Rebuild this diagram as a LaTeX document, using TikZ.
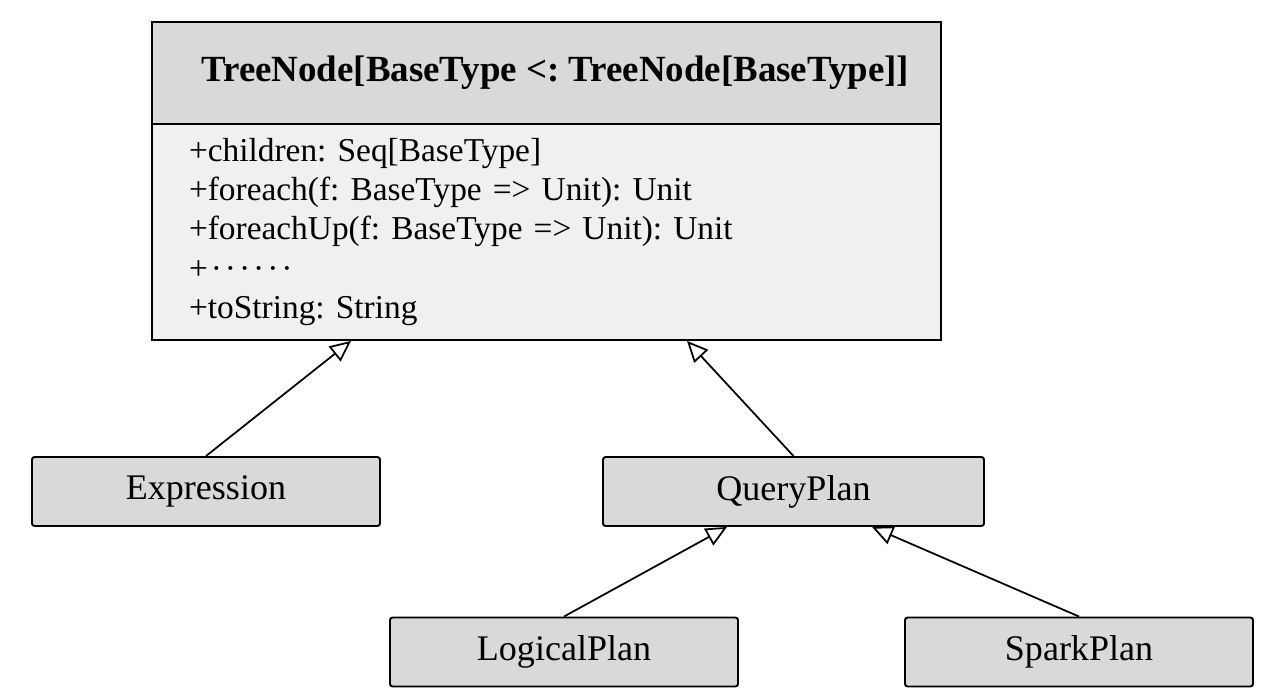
\documentclass[tikz,border=0pt]{standalone}
\usepackage{fontspec}
\setmainfont{Liberation Serif}
\usetikzlibrary{arrows.meta,calc}
\definecolor{headgray}{HTML}{D9D9D9}
\definecolor{bodygray}{HTML}{F0F0F0}
\newcommand{\gapdot}{\hspace{0.06cm}\textperiodcentered}
\frenchspacing
\begin{document}
\begin{tikzpicture}
[classdecorate/.style={shape=rectangle,draw,line width=1.1pt,rounded corners=1.5pt,
   fill=headgray,minimum width=6.96cm,minimum height=1.38cm,
   font=\fontsize{20.5}{24}\selectfont},%
  inheritdecorate/.style={-{Triangle[open,length=0.42cm,width=0.38cm]},line width=1pt}]
\useasboundingbox (0,0) rectangle (25.34,-13.92);
%% the base class
\node (head) at (10.93,-1.46) [draw,line width=1.1pt,fill=headgray,
  minimum width=15.78cm,minimum height=2.04cm,
  font=\fontsize{21}{25}\selectfont\bfseries]
  {\hspace{0.35cm}TreeNode[BaseType <: TreeNode[BaseType]]};
\node (body) at (10.93,-4.64) [draw,line width=1.1pt,fill=bodygray,
  minimum width=15.78cm,minimum height=4.32cm,text width=14.3cm,inner xsep=0.74cm,
  align=left,font=\fontsize{19}{22.4}\selectfont]
  {+children: Seq[BaseType]\\
   +foreach(f: BaseType => Unit): Unit\\
   +foreachUp(f: BaseType => Unit): Unit\\
   +\gapdot\gapdot\gapdot\gapdot\gapdot\gapdot\\
   +toString: String};
%% subclasses
\foreach \nodename/\x/\y/\w/\txt in {expression/4.12/-9.83/6.96/Expression,
  queryplan/15.87/-9.83/7.62/QueryPlan, logicalplan/11.28/-13.04/6.96/LogicalPlan,
  sparkplan/21.58/-13.04/6.96/SparkPlan} {
  \node (\nodename) at (\x,\y) [classdecorate,minimum width=\w cm] {\txt};
}
%% points where the arrows meet
\coordinate (bodyleft) at ($(body.south west)+(4.0,0)$);
\coordinate (bodyright) at ($(body.south west)+(10.72,0)$);
\coordinate (qpleft) at ($(queryplan.south west)+(2.50,0)$);
\coordinate (qpright) at ($(queryplan.south west)+(5.40,0)$);
%% inheritance
\draw[inheritdecorate] (expression.north) -- (bodyleft);
\draw[inheritdecorate] (queryplan.north) -- (bodyright);
\draw[inheritdecorate] (logicalplan.north) -- (qpleft);
\draw[inheritdecorate] (sparkplan.north) -- (qpright);
\end{tikzpicture}
\end{document}
